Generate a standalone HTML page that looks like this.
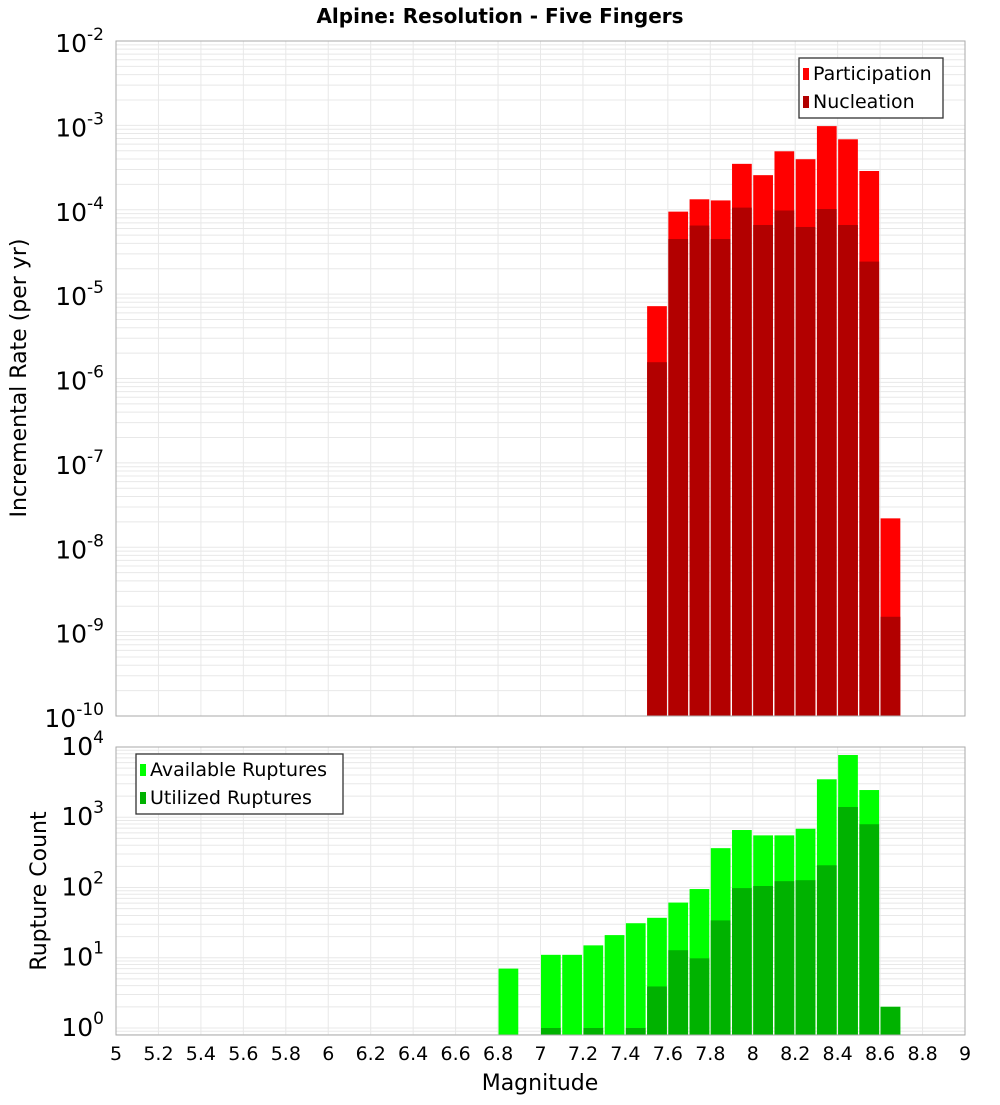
<!DOCTYPE html>
<html><head><meta charset="utf-8"><style>
body{margin:0;background:#fff;}
svg text{font-family:"DejaVu Sans","Liberation Sans",sans-serif;}
</style></head><body>
<svg id="chart" width="1000" height="1100" xmlns="http://www.w3.org/2000/svg">
<rect width="1000" height="1100" fill="#fff"/>
<text x="500" y="23" text-anchor="middle" font-size="20" font-weight="bold">Alpine: Resolution - Five Fingers</text>
<g id="top"></g><g id="bot"></g>
<text x="540" y="1090" text-anchor="middle" font-size="22">Magnitude</text>
<text transform="translate(26,378) rotate(-90)" text-anchor="middle" font-size="22">Incremental Rate (per yr)</text>
<text transform="translate(46,891) rotate(-90)" text-anchor="middle" font-size="22">Rupture Count</text>
</svg>
<script>
const mags=[6.8,6.9,7.0,7.1,7.2,7.3,7.4,7.5,7.6,7.7,7.8,7.9,8.0,8.1,8.2,8.3,8.4,8.5,8.6];
const participation=[0,0,0,0,0,0,0,7.2e-6,9.5e-5,1.33e-4,1.29e-4,3.5e-4,2.57e-4,4.93e-4,3.97e-4,9.8e-4,6.84e-4,2.88e-4,2.2e-8];
const nucleation=[0,0,0,0,0,0,0,1.56e-6,4.5e-5,6.5e-5,4.5e-5,1.06e-4,6.6e-5,9.8e-5,6.25e-5,1.02e-4,6.6e-5,2.43e-5,1.5e-9];
const available=[7,0,11,11,15,21,31,37,61,95,363,658,552,552,686,3470,7690,2440,2];
const utilized=[0,0,1,0,1,0,1,3.9,12.8,9.8,34,98,105,123,127,207,1400,795,2];
const xTicks=[5,5.2,5.4,5.6,5.8,6,6.2,6.4,6.6,6.8,7,7.2,7.4,7.6,7.8,8,8.2,8.4,8.6,8.8,9];
const topExps=[-2,-3,-4,-5,-6,-7,-8,-9,-10];
const botExps=[4,3,2,1,0];
const NS='http://www.w3.org/2000/svg';
const X0=116,X1=965,BW=0.1;
const xs=m=>X0+(m-5)/4*(X1-X0);
function mk(p,t,a){const e=document.createElementNS(NS,t);for(const k in a)e.setAttribute(k,a[k]);p.appendChild(e);return e;}
function panel(g,top,bot,lmax,lmin,name){
  const ys=v=>top+(lmax-Math.log10(v))/(lmax-lmin)*(bot-top);
  for(let d=Math.floor(lmin);d<=Math.ceil(lmax);d++){for(let k=1;k<10;k++){const v=k*Math.pow(10,d);const l=Math.log10(v);if(l<lmin||l>lmax)continue;
    const ln=mk(g,'line',{x1:X0,x2:X1,y1:ys(v),y2:ys(v),stroke:'#e8e8e8','stroke-width':1});
    
    }}
  xTicks.forEach(t=>{const ln=mk(g,'line',{x1:xs(t),x2:xs(t),y1:top,y2:bot,stroke:'#e8e8e8'});
    
    });
  return ys;
}
function bars(g,vals,ys,bot,color,name){
  vals.forEach((v,i)=>{if(v<=0)return;const y=Math.max(ys(v),0);
    const r=mk(g,'rect',{x:xs(mags[i])+0.5,y:y,width:xs(mags[i]+BW)-xs(mags[i])-1.5,height:bot-y,fill:color});
    
    });
}
// top
const gt=document.getElementById('top');
const T0=41,T1=716;
const yt=panel(gt,T0,T1,-2,-10,'top');
bars(gt,participation,yt,T1,'#ff0000','participation-bar');
bars(gt,nucleation,yt,T1,'#b20000','nucleation-bar');
const fr1=mk(gt,'rect',{x:X0,y:T0,width:X1-X0,height:T1-T0,fill:'none',stroke:'#aaa'});


topExps.forEach(e=>{const t=mk(gt,'text',{x:104,y:yt(Math.pow(10,e))+11,'text-anchor':'end','font-size':25});t.innerHTML='10<tspan dy="-12" font-size="17">'+e+'</tspan>';
  
  });
// bottom
const gb=document.getElementById('bot');
const B0=747,B1=1035;
const yb=panel(gb,B0,B1,4,-0.1,'bottom');
bars(gb,available,yb,B1,'#00ff00','available-bar');
bars(gb,utilized,yb,B1,'#00b200','utilized-bar');
const fr2=mk(gb,'rect',{x:X0,y:B0,width:X1-X0,height:B1-B0,fill:'none',stroke:'#aaa'});


botExps.forEach(e=>{const t=mk(gb,'text',{x:104,y:yb(Math.pow(10,e))+8,'text-anchor':'end','font-size':25});t.innerHTML='10<tspan dy="-12" font-size="17">'+e+'</tspan>';
  
  });
xTicks.forEach(tk=>{const t=mk(gb,'text',{x:xs(tk),y:1060,'text-anchor':'middle','font-size':19});t.textContent=String(tk);
  
  });
// legends
function legend(g,x,y,w,items,name){
  const L=mk(g,'g',{});
  
  
  mk(L,'rect',{x:x,y:y,width:w,height:60,fill:'#fff',stroke:'#333','stroke-width':1.3});
  items.forEach((it,i)=>{
    const s=mk(L,'rect',{x:x+4,y:y+10+i*28,width:6,height:12,fill:it[1]});
    
    
    const t=mk(L,'text',{x:x+14,y:y+22+i*28,'font-size':19});t.textContent=it[0];
    
    });
}
legend(gt,799,58,144,[['Participation','#ff0000'],['Nucleation','#b20000']],'top-legend');
legend(gb,136,754,207,[['Available Ruptures','#00ff00'],['Utilized Ruptures','#00b200']],'bottom-legend');
</script>
</body></html>
